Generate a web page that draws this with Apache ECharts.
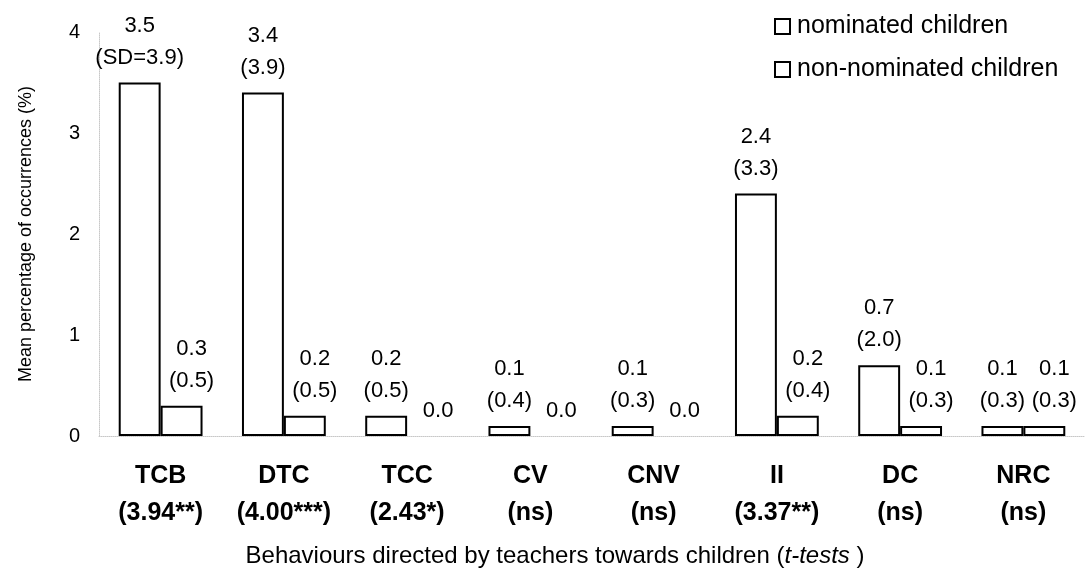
<!DOCTYPE html>
<html>
<head>
<meta charset="utf-8">
<script src="https://cdn.jsdelivr.net/npm/echarts@6/dist/echarts.min.js"></script>
<style>
html,body{margin:0;padding:0;background:#fff;}
#chart{width:1085px;height:573px;}
</style>
</head>
<body>
<div id="chart"></div>
<script>
const categories = ['TCB','DTC','TCC','CV','CNV','II','DC','NRC'];
const tTests = ['3.94**','4.00***','2.43*','ns','ns','3.37**','ns','ns'];
const nominated = [3.5, 3.4, 0.2, 0.1, 0.1, 2.4, 0.7, 0.1];
const nominatedSD = [3.9, 3.9, 0.5, 0.4, 0.3, 3.3, 2.0, 0.3];
const nonNominated = [0.3, 0.2, 0.0, 0.0, 0.0, 0.2, 0.1, 0.1];
const nonNominatedSD = [0.5, 0.5, null, null, null, 0.4, 0.3, 0.3];
const yTicks = [0, 1, 2, 3, 4];

const FONT = 'Liberation Sans, Arial, sans-serif';

function labelFmt(sds, first) {
  return function (p) {
    const v = p.value.toFixed(1);
    const sd = sds[p.dataIndex];
    if (sd === null || sd === undefined) return v;
    const sdTxt = (first && p.dataIndex === 0) ? '(SD=' + sd.toFixed(1) + ')' : '(' + sd.toFixed(1) + ')';
    return v + '\n' + sdTxt;
  };
}
function toData(arr) {
  return arr.map(v => v === 0 ? { value: v, itemStyle: { borderWidth: 0 } } : v);
}

const chart = echarts.init(document.getElementById('chart'), null, { renderer: 'canvas' });
const labelBase = {
  show: true,
  position: 'top',
  distance: 9,
  fontFamily: FONT,
  fontSize: 22,
  lineHeight: 32,
  color: '#000'
};
chart.setOption({
  animation: false,
  backgroundColor: '#fff',
  textStyle: { fontFamily: FONT },
  grid: { left: 99, right: -4, top: 32, bottom: 137, containLabel: false },
  legend: {
    orient: 'vertical',
    left: 774,
    top: 14,
    padding: 0,
    itemWidth: 15,
    itemHeight: 15,
    itemGap: 18,
    icon: 'rect',
    itemStyle: { color: '#fff', borderColor: '#000', borderWidth: 2 },
    textStyle: { fontFamily: FONT, fontSize: 25, color: '#000', padding: [0, 0, 0, 2] },
    data: ['nominated children', 'non-nominated children']
  },
  xAxis: {
    type: 'category',
    data: categories,
    axisLine: { show: true, lineStyle: { color: '#c8c8c8', type: 'dotted', width: 1 } },
    axisTick: { show: false },
    axisLabel: {
      margin: 22,
      interval: 0,
      formatter: function (v, i) {
        return '{a|' + v + '}\n{b|(' + tTests[i] + ')}';
      },
      rich: {
        a: { fontFamily: FONT, fontWeight: 'bold', fontSize: 25, lineHeight: 37, color: '#000' },
        b: { fontFamily: FONT, fontWeight: 'bold', fontSize: 25, lineHeight: 37, color: '#000' }
      }
    }
  },
  yAxis: {
    type: 'value',
    min: 0,
    max: 4,
    interval: 1,
    name: 'Mean percentage of occurrences (%)',
    nameLocation: 'middle',
    nameGap: 64,
    nameTextStyle: { fontFamily: FONT, fontSize: 18, color: '#000' },
    axisLine: { show: true, lineStyle: { color: '#c8c8c8', type: 'dotted', width: 1 } },
    axisTick: { show: false },
    splitLine: { show: false },
    axisLabel: {
      margin: 19,
      fontFamily: FONT,
      fontSize: 20,
      color: '#000',
      formatter: function (v) { return yTicks.indexOf(v) >= 0 ? String(v) : ''; }
    }
  },
  series: [
    {
      name: 'nominated children',
      type: 'bar',
      data: toData(nominated),
      barGap: '0%',
      barCategoryGap: '32%',
      itemStyle: { color: '#fff', borderColor: '#000', borderWidth: 2 },
      label: Object.assign({}, labelBase, { formatter: labelFmt(nominatedSD, true) })
    },
    {
      name: 'non-nominated children',
      type: 'bar',
      data: toData(nonNominated),
      barGap: '0%',
      barCategoryGap: '32%',
      itemStyle: { color: '#fff', borderColor: '#000', borderWidth: 2 },
      label: Object.assign({}, labelBase, { offset: [10, 0], formatter: labelFmt(nonNominatedSD, false) })
    }
  ],
  graphic: [
    {
      type: 'text',
      x: 555,
      y: 556,
      style: {
        text: '{n|Behaviours directed by teachers towards children (}{i|t-tests}{n| )}',
        align: 'center',
        verticalAlign: 'middle',
        rich: {
          n: { fontFamily: FONT, fontSize: 24, fill: '#000', color: '#000' },
          i: { fontFamily: FONT, fontSize: 24, fontStyle: 'italic', fill: '#000', color: '#000' }
        }
      }
    }
  ]
});
</script>
</body>
</html>
